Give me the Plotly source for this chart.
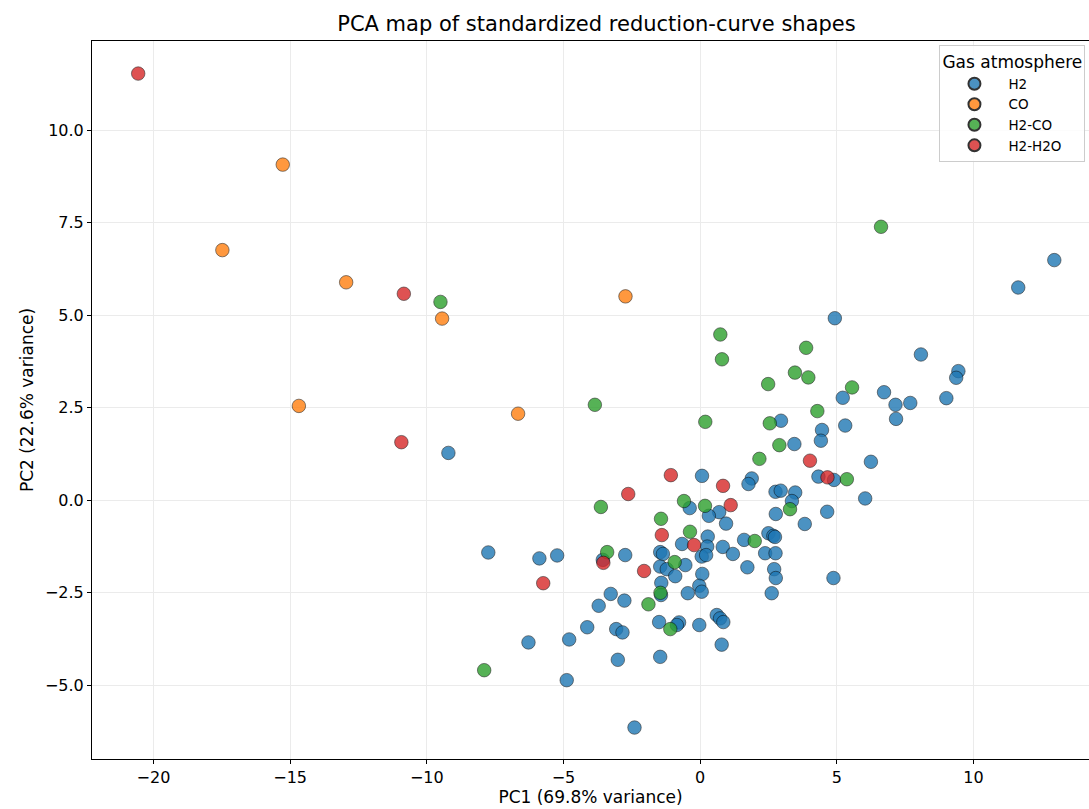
import plotly.graph_objects as go

# ---- data ----
h2_x = [12.96, 11.64, 4.93, 8.08, 9.45, 9.37, 6.73, 9.01, 5.22, 7.69, 7.15, 7.17, 4.46, 5.31, 2.96,
        3.45, 4.42, 6.25, -9.21, 0.07, 1.89, 1.77, 4.33, 4.90, 2.76, 2.95, 3.48, 3.36, 6.04, -0.38,
        0.70, 0.32, 0.95, 2.77, 4.65, 3.83, 2.50, 2.68, 2.74, 0.28, 1.61, -0.66, 0.26, 0.83, 1.20,
        -2.74, -3.56, -1.46, -1.36, 0.06, 0.22, 2.38, 2.76, -7.75, -5.88, -5.23, -1.46, -1.22, -0.54,
        -0.91, 0.08, 1.73, 2.71, 2.77, 4.88, -1.42, -0.03, 0.06, -0.45, -1.43, -3.27, -2.77, -3.71,
        2.62, 0.61, 0.73, 0.85, -0.03, -0.77, -0.85, -1.50, -3.07, -2.84, -4.13, -6.28, -4.79, -4.88,
        -3.01, -1.46, 0.79, -2.40]
h2_y = [6.49, 5.75, 4.92, 3.94, 3.49, 3.31, 2.92, 2.76, 2.77, 2.63, 2.58, 2.20, 1.90, 2.02, 2.15,
        1.52, 1.61, 1.04, 1.28, 0.66, 0.59, 0.44, 0.64, 0.55, 0.23, 0.26, 0.21, -0.02, 0.05, -0.21,
        -0.32, -0.42, -0.63, -0.37, -0.31, -0.64, -0.89, -0.96, -0.99, -0.98, -1.07, -1.18, -1.25, -1.26, -1.45,
        -1.48, -1.61, -1.40, -1.45, -1.52, -1.48, -1.43, -1.43, -1.41, -1.57, -1.49, -1.79, -1.86, -1.75,
        -2.05, -1.99, -1.81, -1.86, -2.10, -2.10, -2.23, -2.31, -2.47, -2.51, -2.56, -2.53, -2.71, -2.85,
        -2.51, -3.10, -3.19, -3.29, -3.37, -3.30, -3.37, -3.29, -3.48, -3.57, -3.43, -3.84, -3.76, -4.86,
        -4.31, -4.23, -3.90, -6.14]

co_x = [-15.27, -17.48, -12.95, -9.44, -2.73, -14.68, -6.66]
co_y = [9.07, 6.76, 5.89, 4.91, 5.51, 2.55, 2.34]

h2co_x = [-9.50, 6.62, -3.85, 0.74, 0.80, 3.88, 3.47, 3.96, 2.49, 5.56, 4.29, 2.55, 0.19, 2.90, 2.17,
          5.37, -3.63, -0.59, 0.18, -1.43, 3.29, -0.37, -3.40, 2.00, -0.93, -1.45, -1.89, -1.09, -7.90]
h2co_y = [5.36, 7.39, 2.58, 4.48, 3.81, 4.12, 3.45, 3.32, 3.14, 3.05, 2.41, 2.08, 2.12, 1.49, 1.12,
          0.57, -0.18, -0.02, -0.15, -0.50, -0.24, -0.85, -1.40, -1.10, -1.67, -2.50, -2.81, -3.48, -4.59]

h2h2o_x = [-20.56, -10.84, -10.93, -5.74, -3.54, -2.63, -1.07, -1.40, -2.05, -0.22, 0.84, 1.12, 4.02, 4.66]
h2h2o_y = [11.53, 5.58, 1.57, -2.24, -1.69, 0.17, 0.68, -0.94, -1.91, -1.21, 0.39, -0.13, 1.07, 0.62]

groups = ["H2", "CO", "H2-CO", "H2-H2O"]
colors = ["#1f77b4", "#ff7f0e", "#2ca02c", "#d62728"]
xs = [h2_x, co_x, h2co_x, h2h2o_x]
ys = [h2_y, co_y, h2co_y, h2h2o_y]

x_ticks = [-20, -15, -10, -5, 0, 5, 10]
y_ticks = [-5.0, -2.5, 0.0, 2.5, 5.0, 7.5, 10.0]

FONT = "DejaVu Sans"

fig = go.Figure()
for name, c, x, y in zip(groups, colors, xs, ys):
    fig.add_trace(go.Scatter(
        x=x, y=y, mode="markers", name=name,
        marker=dict(size=13.5, color=c, opacity=0.8,
                    line=dict(color="black", width=0.6)),
    ))

axis_common = dict(
    showline=True, linecolor="black", linewidth=1, mirror=True,
    ticks="outside", ticklen=4, tickcolor="black", tickwidth=1,
    showgrid=True, gridcolor="#ebebeb", gridwidth=1, zeroline=False,
    tickfont=dict(family=FONT, size=16, color="black"),
)

fig.update_layout(
    width=1089, height=809,
    margin=dict(l=92, r=0, t=41, b=50, autoexpand=False),
    paper_bgcolor="white", plot_bgcolor="white",
    font=dict(family=FONT, color="black"),
    title=dict(text="PCA map of standardized reduction-curve shapes",
               x=0.506, xref="paper", xanchor="center",
               y=1 - 24 / 809, yref="container", yanchor="middle",
               font=dict(family=FONT, size=21, color="black")),
    xaxis=dict(range=[-22.25, 14.23], tickvals=x_ticks,
               title=dict(text="PC1 (69.8% variance)", standoff=4,
                          font=dict(family=FONT, size=17, color="black")),
               **axis_common),
    yaxis=dict(range=[-6.99, 12.41], tickvals=y_ticks, tickformat=".1f",
               title=dict(text="PC2 (22.6% variance)", standoff=6,
                          font=dict(family=FONT, size=17, color="black")),
               **axis_common),
    legend=dict(
        x=0.850, y=0.994, xanchor="left", yanchor="top",
        bgcolor="rgba(255,255,255,0.85)", bordercolor="#cccccc", borderwidth=1,
        title=dict(text="Gas atmosphere", font=dict(family=FONT, size=17, color="black")),
        font=dict(family=FONT, size=13.5, color="black"),
        itemsizing="constant", itemwidth=58, tracegroupgap=0,
    ),
)

fig.write_html("out.html", config={"displayModeBar": False},
               post_script="document.body.style.margin='0px';document.body.style.overflow='hidden';")
